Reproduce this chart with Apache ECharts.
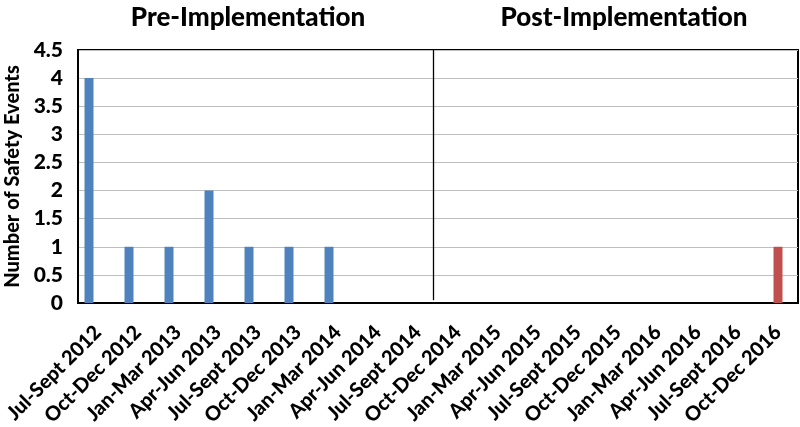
<!DOCTYPE html>
<html><head><meta charset="utf-8">
<script src="https://cdn.jsdelivr.net/npm/echarts@6/dist/echarts.min.js"></script>
<style>html,body{margin:0;padding:0;background:#fff}#c{width:800px;height:427px}</style>
</head><body><div id="c"></div>
<script>
const categories = ['Jul-Sept 2012','Oct-Dec 2012','Jan-Mar 2013','Apr-Jun 2013','Jul-Sept 2013','Oct-Dec 2013','Jan-Mar 2014','Apr-Jun 2014','Jul-Sept 2014','Oct-Dec 2014','Jan-Mar 2015','Apr-Jun 2015','Jul-Sept 2015','Oct-Dec 2015','Jan-Mar 2016','Apr-Jun 2016','Jul-Sept 2016','Oct-Dec 2016'];
const preValues = [4,1,1,2,1,1,1,null,null,null,null,null,null,null,null,null,null,null];
const postValues = [null,null,null,null,null,null,null,null,null,null,null,null,null,null,null,null,null,1];
const yTicks = [0,0.5,1,1.5,2,2.5,3,3.5,4,4.5];
const dividerPosition = 8.875;
const sectionTitles = ['Pre-Implementation','Post-Implementation'];

const font = 'Lato, "Open Sans", sans-serif';
const chart = echarts.init(document.getElementById('c'), null, {renderer:'canvas'});
chart.setOption({
  animation:false,
  title:[
    {text:sectionTitles[0], left:243, top:0, textAlign:'center', textStyle:{fontFamily:font, fontWeight:900, fontSize:26, color:'#000'}},
    {text:sectionTitles[1], left:619, top:0, textAlign:'center', textStyle:{fontFamily:font, fontWeight:900, fontSize:26, color:'#000'}}
  ],
  grid:{left:78, right:2, top:50, bottom:124, show:true, borderColor:'#000', borderWidth:2, backgroundColor:'#fff', containLabel:false, outerBoundsMode:'none'},
  xAxis:[
    {type:'category', data:categories, axisTick:{show:false},
     axisLine:{lineStyle:{color:'#000', width:2}},
     axisLabel:{rotate:45, interval:0, margin:26, fontFamily:font, fontWeight:900, fontSize:20, color:'#000'}},
    {type:'value', min:0, max:18, show:false}
  ],
  yAxis:{type:'value', min:0, max:4.5, interval:0.5,
    name:'Number of Safety Events', nameLocation:'middle', nameGap:53, nameRotate:90,
    nameTextStyle:{fontFamily:font, fontWeight:900, fontSize:20, color:'#000'},
    axisLine:{show:true, lineStyle:{color:'#000', width:2}},
    axisTick:{show:false},
    axisLabel:{fontFamily:font, fontWeight:900, fontSize:21, color:'#000', margin:15,
      formatter:v=>yTicks.includes(v)?String(v):''},
    splitLine:{lineStyle:{color:'#bfbfbf', width:1}}
  },
  series:[
    {type:'bar', data:preValues, barWidth:9, barGap:'0%', itemStyle:{color:'#4f81bd'}},
    {type:'bar', data:postValues, barWidth:9, barGap:'0%', itemStyle:{color:'#c0504d'}},
    {type:'bar', data:categories.map(()=>null), barWidth:9, barGap:'0%'},
    {type:'scatter', xAxisIndex:1, data:[[dividerPosition,0]], symbolSize:0, silent:true,
     markLine:{symbol:'none', silent:true, label:{show:false},
       lineStyle:{color:'#000', width:1.3, type:'solid'},
       data:[[{coord:[dividerPosition,0.05]},{coord:[dividerPosition,4.5]}]]}}
  ]
});
</script></body></html>
